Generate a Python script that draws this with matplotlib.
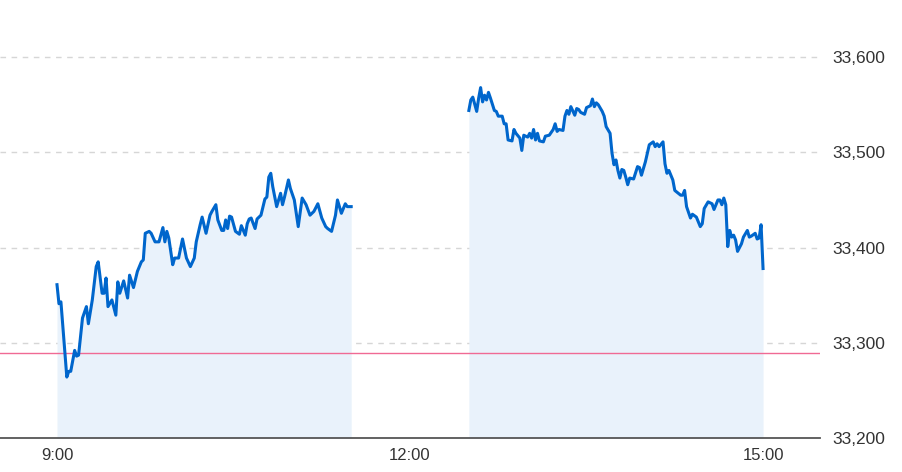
import numpy as np
import matplotlib
matplotlib.use("Agg")
import matplotlib.pyplot as plt
from matplotlib.ticker import FuncFormatter

plt.rcParams["font.family"] = ["Liberation Sans", "DejaVu Sans"]

# morning session, minutes after 9:00
am_minutes = [0, 1, 2, 5, 6, 7, 9, 10, 11, 13, 15, 16, 18, 20, 21, 23, 24, 25, 26, 28,
              30, 31, 32, 34, 36, 37, 39, 41, 43, 44, 45, 47, 48, 50, 52, 54, 55, 56, 57, 59,
              60, 62, 64, 66, 68, 70, 71, 73, 74, 76, 78, 79, 81, 82, 84, 85, 86, 87, 88, 89,
              91, 93, 94, 96, 97, 98, 99, 101, 102, 104, 106, 107, 108, 109, 110, 112, 114, 115, 116, 118,
              119, 121, 123, 125, 127, 129, 131, 133, 135, 137, 138, 140, 142, 143, 145, 147, 148, 150]
am_values = [33361, 33341, 33343, 33264, 33270, 33270, 33292, 33286, 33287, 33326,
             33338, 33320, 33345, 33380, 33385, 33352, 33352, 33368, 33338, 33345,
             33329, 33364, 33352, 33365, 33347, 33371, 33358, 33375, 33385, 33387,
             33415, 33417, 33415, 33406, 33406, 33421, 33406, 33417, 33410, 33382,
             33389, 33389, 33409, 33389, 33380, 33389, 33406, 33424, 33432, 33415,
             33434, 33438, 33445, 33429, 33418, 33418, 33429, 33420, 33433, 33432,
             33417, 33414, 33423, 33413, 33425, 33430, 33431, 33420, 33430, 33434,
             33451, 33453, 33474, 33478, 33464, 33443, 33457, 33445, 33453, 33471,
             33462, 33450, 33422, 33452, 33445, 33434, 33438, 33446, 33431, 33422,
             33420, 33417, 33434, 33450, 33436, 33446, 33443, 33443]

# afternoon session, minutes after 12:30
pm_minutes = [0, 1, 2, 4, 5, 6, 7, 8, 9, 10, 11, 13, 14, 15, 17, 18, 19, 20, 22, 23,
              24, 26, 27, 28, 30, 31, 32, 33, 34, 35, 36, 38, 39, 41, 43, 44, 45, 46, 48, 49,
              50, 51, 52, 54, 55, 56, 57, 59, 60, 62, 63, 64, 65, 66, 68, 69, 70, 72, 73, 74,
              75, 76, 77, 78, 79, 80, 81, 82, 84, 86, 87, 88, 90, 92, 94, 95, 96, 97, 99, 100,
              101, 102, 104, 105, 108, 109, 110, 111, 113, 114, 116, 118, 119, 120, 122, 124, 125, 127, 128, 129,
              130, 131, 132, 133, 134, 135, 136, 137, 138, 139, 140, 142, 143, 144, 146, 147, 148, 149, 150]
pm_values = [33544, 33555, 33558, 33543, 33557, 33568, 33553, 33560, 33555, 33563,
             33557, 33544, 33543, 33538, 33538, 33530, 33530, 33513, 33512, 33524,
             33520, 33515, 33502, 33518, 33516, 33520, 33515, 33524, 33513, 33520,
             33512, 33511, 33517, 33518, 33524, 33530, 33522, 33524, 33523, 33538,
             33544, 33540, 33548, 33539, 33546, 33545, 33542, 33540, 33547, 33549,
             33556, 33548, 33552, 33550, 33543, 33538, 33527, 33520, 33499, 33487,
             33492, 33481, 33473, 33482, 33481, 33474, 33466, 33473, 33472, 33485,
             33484, 33476, 33490, 33508, 33511, 33506, 33509, 33506, 33511, 33488,
             33478, 33481, 33471, 33460, 33455, 33455, 33460, 33443, 33431, 33435,
             33432, 33422, 33425, 33441, 33448, 33446, 33440, 33450, 33450, 33445,
             33452, 33445, 33401, 33418, 33411, 33413, 33408, 33396, 33400, 33404,
             33411, 33418, 33411, 33412, 33415, 33409, 33410, 33424, 33378]

prev_close = 33289
y_ticks = [33200, 33300, 33400, 33500, 33600]
x_ticks = [9, 12, 15]
x_labels = ["9:00", "12:00", "15:00"]

line_color = "#0066cc"
fill_color = "#e9f2fb"

fig = plt.figure(figsize=(9.03, 4.72), dpi=100)
ax = fig.add_axes([0, 34 / 472, 820 / 903, 438 / 472])

am_x = 9 + np.array(am_minutes) / 60
pm_x = 12.5 + np.array(pm_minutes) / 60
y_min = 33200

for xs, ys in [(am_x, am_values), (pm_x, pm_values)]:
    ax.fill_between(xs, ys, y_min, color=fill_color, lw=0, zorder=1)
    ax.plot(xs, ys, color=line_color, lw=2.2, zorder=3, solid_joinstyle="round")

ax.axhline(prev_close, color="#f06a94", lw=1.0, zorder=2)

for t in y_ticks[1:]:
    ax.axhline(t, color="#d6d6d6", lw=1.0, ls=(0, (4, 4)), zorder=0)

ax.set_xlim(8.5156, 15.484)
ax.set_ylim(y_min, 33660)

for s in ["top", "left", "right"]:
    ax.spines[s].set_visible(False)
ax.spines["bottom"].set_color("#555555")
ax.spines["bottom"].set_linewidth(1.3)

ax.yaxis.tick_right()
ax.set_yticks(y_ticks)
ax.yaxis.set_major_formatter(FuncFormatter(lambda v, p: f"{int(v):,}"))
ax.set_xticks(x_ticks)
ax.set_xticklabels(x_labels)
ax.tick_params(axis="y", length=0, pad=9, labelsize=12.5, labelcolor="#333333")
ax.tick_params(axis="x", length=0, pad=7, labelsize=12, labelcolor="#333333")

fig.savefig("out.png", dpi=100)
